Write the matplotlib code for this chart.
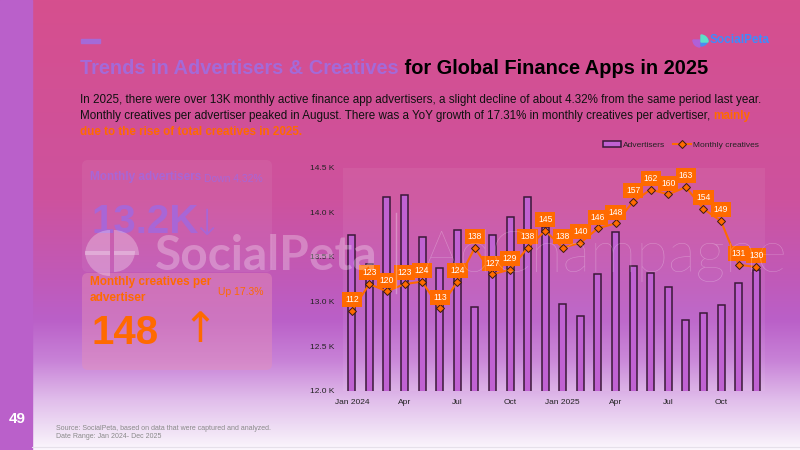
import matplotlib
matplotlib.use("Agg")
import matplotlib.pyplot as plt
import numpy as np
from matplotlib.patches import FancyBboxPatch, Rectangle, Wedge
from matplotlib.lines import Line2D

plt.rcParams['font.family'] = ['Liberation Sans', 'DejaVu Sans']

# data
months = ['Jan 2024', 'Feb 2024', 'Mar 2024', 'Apr 2024', 'May 2024', 'Jun 2024',
          'Jul 2024', 'Aug 2024', 'Sep 2024', 'Oct 2024', 'Nov 2024', 'Dec 2024',
          'Jan 2025', 'Feb 2025', 'Mar 2025', 'Apr 2025', 'May 2025', 'Jun 2025',
          'Jul 2025', 'Aug 2025', 'Sep 2025', 'Oct 2025', 'Nov 2025', 'Dec 2025']
tick_labels = ['Jan 2024', '', '', 'Apr', '', '', 'Jul', '', '', 'Oct', '', '',
               'Jan 2025', '', '', 'Apr', '', '', 'Jul', '', '', 'Oct', '', '']
advertisers = [13750, 13420, 14175, 14195, 13720, 13378, 13805, 12935, 13740, 13946, 14175, 13838,
               12969, 12841, 13305, 13780, 13395, 13314, 13166, 12793, 12867, 12957, 13211, 13350]
creatives = [112, 123, 120, 123, 124, 113, 124, 138, 127, 129, 138, 145,
             138, 140, 146, 148, 157, 162, 160, 163, 154, 149, 131, 130]
y_ticks = [12000, 12500, 13000, 13500, 14000, 14500]

ORANGE = '#FF6A00'
W, H = 800, 450

fig = plt.figure(figsize=(8, 4.5), dpi=100)

# background gradient
bg = fig.add_axes([0, 0, 1, 1])
bg.set_zorder(0)
stops_y = [0, 200, 280, 320, 360, 400, 430, 450]
stops_c = np.array([[214, 79, 142], [205, 82, 158], [192, 90, 185], [186, 96, 200],
                    [200, 130, 215], [225, 190, 235], [240, 225, 245], [252, 248, 253]]) / 255
yy = np.arange(H)
grad = np.stack([np.interp(yy, stops_y, stops_c[:, k]) for k in range(3)], axis=1)
bg.imshow(grad[:, None, :], extent=[0, W, H, 0], aspect='auto')
bg.set_xlim(0, W)
bg.set_ylim(H, 0)
bg.axis('off')

# left strip and page number
bg.add_patch(Rectangle((0, 0), 32, H, color='#BA60CA', zorder=2))
bg.text(17, 419, '49', color='white', fontsize=11, fontweight='bold', ha='center', va='center', zorder=3)
bg.plot([32, W], [447, 447], color='#E6E0EA', lw=0.8, zorder=2)

# top-left dash
bg.add_patch(Rectangle((81, 39), 19, 4, color='#A46AD8', zorder=2))

# top-right logo
bg.add_patch(Wedge((700, 40), 7, 90, 180, color='#B060D8', zorder=3))
bg.add_patch(Wedge((701, 39), 7, 0, 90, color='#4A8CF0', zorder=3))
bg.add_patch(Wedge((701, 42), 7, 270, 360, color='#5CE0C8', zorder=3))
bg.text(710, 40, 'SocialPeta', color='#3D8BFD', fontsize=8.5, fontweight='bold', ha='left', va='center', zorder=3)

# title
t1 = bg.text(80, 68, 'Trends in Advertisers & Creatives', color='#A46AD8', fontsize=14.4,
             fontweight='bold', ha='left', va='center', zorder=3)
bg.annotate(' for Global Finance Apps in 2025', xy=(1, 0), xycoords=t1, color='black', fontsize=14.4,
            fontweight='bold', ha='left', va='bottom', zorder=3)

# body text
body_fs = 8.4
bg.text(80, 100, 'In 2025, there were over 13K monthly active finance app advertisers, a slight decline of about 4.32% from the same period last year.',
        fontsize=body_fs, color='#111111', ha='left', va='center', zorder=3)
l2 = bg.text(80, 116, 'Monthly creatives per advertiser peaked in August. There was a YoY growth of 17.31% in monthly creatives per advertiser, ',
             fontsize=body_fs, color='#111111', ha='left', va='center', zorder=3)
bg.annotate('mainly', xy=(1, 0), xycoords=l2, fontsize=body_fs, color=ORANGE, fontweight='bold',
            ha='left', va='bottom', zorder=3)
bg.text(80, 132, 'due to the rise of total creatives in 2025.', fontsize=body_fs, color=ORANGE,
        fontweight='bold', ha='left', va='center', zorder=3)

# left cards
bg.add_patch(FancyBboxPatch((82, 160), 190, 112, boxstyle='round,pad=0,rounding_size=6',
                            fc='white', ec='none', alpha=0.06, zorder=2))
bg.text(90, 177, 'Monthly advertisers', color='#A866D6', fontsize=8.5, fontweight='bold', ha='left', va='center', zorder=3)
bg.text(263, 179, 'Down 4.32%', color='#A866D6', fontsize=7.5, ha='right', va='center', zorder=3)
bg.text(91, 222, '13.2K', color='#A866D6', fontsize=29, fontweight='bold', ha='left', va='center', zorder=3)
bg.text(206, 225, '\u2193', color='#A866D6', fontsize=26, ha='center', va='center', zorder=3,
        family=['DejaVu Sans'], fontweight='light')

bg.add_patch(FancyBboxPatch((82, 273), 190, 97, boxstyle='round,pad=0,rounding_size=6',
                            fc='#E590B8', ec='none', alpha=0.45, zorder=2))
bg.text(90, 290, 'Monthly creatives per\nadvertiser', color=ORANGE, fontsize=8.5, fontweight='bold',
        ha='left', va='center', linespacing=1.35, zorder=3)
bg.text(263, 292, 'Up 17.3%', color=ORANGE, fontsize=7.5, ha='right', va='center', zorder=3)
bg.text(91, 333, '148', color=ORANGE, fontsize=29, fontweight='bold', ha='left', va='center', zorder=3)
bg.text(200, 330, '\u2191', color=ORANGE, fontsize=30, ha='center', va='center', zorder=3,
        family=['DejaVu Sans'])

# footer
bg.text(56, 429, 'Source: SocialPeta, based on data that were captured and analyzed.', color='#8A8A8A',
        fontsize=5, ha='left', va='center', zorder=3)
bg.text(56, 436.5, 'Date Range: Jan 2024- Dec 2025', color='#8A8A8A', fontsize=5, ha='left', va='center', zorder=3)

# chart
ax = fig.add_axes([343 / W, 1 - 390.7 / H, 422 / W, (390.7 - 167.7) / H])
ax.set_zorder(1)
x = np.arange(len(months))
ax.bar(x, advertisers, width=0.4, color='#C062D2', edgecolor='#3A1838', linewidth=1.1, zorder=2)
ax.set_xlim(-0.5, len(months) - 0.5)
ax.set_ylim(12000, 14500)
ax.set_yticks(y_ticks)
ax.set_yticklabels([f'{v / 1000:.1f} K' for v in y_ticks])
ax.set_xticks(x)
ax.set_xticklabels(tick_labels)
ax.tick_params(length=0, labelsize=6, colors='#222222')
ax.tick_params(axis='x', pad=6)
ax.tick_params(axis='y', pad=6)
for s in ax.spines.values():
    s.set_visible(False)
ax.patch.set_facecolor('white')
ax.patch.set_alpha(0.06)

ax2 = ax.twinx()
ax2.set_zorder(2)
ax2.patch.set_visible(False)
ax2.plot(x, creatives, color=ORANGE, lw=1.5, marker='D', markersize=4.5,
         markerfacecolor=ORANGE, markeredgecolor='#3A1A10', markeredgewidth=0.7, zorder=3)
for xi, v in zip(x, creatives):
    ax2.annotate(str(v), (xi, v), xytext=(0, 8), textcoords='offset points', ha='center', va='center',
                 fontsize=6.2, color='white',
                 bbox=dict(boxstyle='square,pad=0.35', fc=ORANGE, ec='none'), zorder=4)
ax2.set_ylim(79, 171)
ax2.set_yticks([])
for s in ax2.spines.values():
    s.set_visible(False)

handles = [Rectangle((0, 0), 1, 1, fc='#C062D2', ec='#3A1838', lw=1.1),
           Line2D([0], [0], color=ORANGE, lw=1.5, marker='D', markersize=4,
                  markerfacecolor=ORANGE, markeredgecolor='#3A1A10', markeredgewidth=0.7)]
fig.legend(handles, ['Advertisers', 'Monthly creatives'], loc='center', bbox_to_anchor=(0.851, 1 - 145 / H),
           ncol=2, frameon=False, fontsize=6, handlelength=2.2, handleheight=0.6, columnspacing=1.0,
           handletextpad=0.2, labelcolor='#222222')

# watermark over everything
ov = fig.add_axes([0, 0, 1, 1])
ov.set_zorder(5)
ov.patch.set_visible(False)
ov.set_xlim(0, W)
ov.set_ylim(H, 0)
ov.axis('off')
wm = dict(color='white', alpha=0.28, lw=0)
ov.add_patch(Wedge((110, 251), 25, 90, 180, **wm))
ov.add_patch(Wedge((114, 251), 21, 0, 90, **wm))
ov.add_patch(Wedge((110, 255), 25, 180, 270, **wm))
ov.add_patch(Wedge((114, 255), 25, 270, 360, **wm))
ov.text(155, 256, 'SocialPeta', color='white', alpha=0.28, fontsize=34.5, fontweight='bold',
        family=['Lato', 'DejaVu Sans'], ha='left', va='center')
ov.plot([396, 396], [213, 293], color='white', alpha=0.3, lw=1)
ov.text(423, 256, 'AdChampagne', color='white', alpha=0.28, fontsize=42, fontweight='light',
        family=['Lato', 'DejaVu Sans'], ha='left', va='center')

fig.savefig('out.png', dpi=100)
